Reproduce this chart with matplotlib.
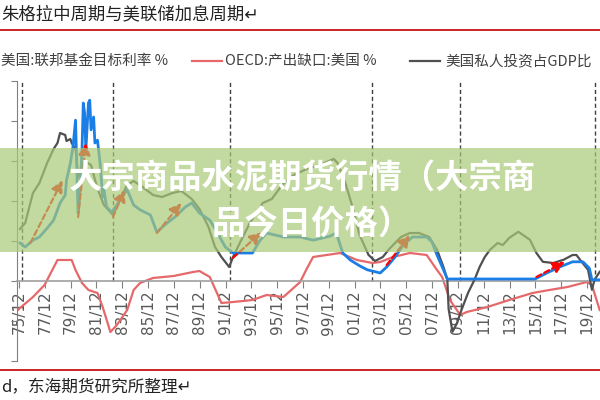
import matplotlib.pyplot as plt
from matplotlib.lines import Line2D
from matplotlib.patches import Rectangle

plt.rcParams['font.family'] = ['Noto Sans CJK SC', 'DejaVu Sans']

# x axis: December of every second year
tick_pos = [1975.92 + 2 * i for i in range(23)]
tick_labels = ['75/12', '77/12', '79/12', '81/12', '83/12', '85/12', '87/12', '89/12',
               '91/12', '93/12', '95/12', '97/12', '99/12', '01/12', '03/12', '05/12',
               '07/12', '09/12', '11/12', '13/12', '15/12', '17/12', '19/12']

# OECD output gap, US (%)
gap_t = [1975.84, 1976.0, 1977.0, 1977.9, 1978.5, 1978.9, 1980.0, 1980.3, 1980.8, 1981.3,
         1982.0, 1982.4, 1983.0, 1983.5, 1984.3, 1984.8, 1985.3, 1986.3, 1987.9, 1989.4,
         1989.9, 1990.7, 1991.6, 1992.5, 1994.0, 1995.1, 1996.4, 1997.7, 1998.2, 1998.7,
         2000.8, 2002.1, 2003.3, 2003.9, 2004.9, 2006.2, 2007.5, 2008.3, 2008.7, 2009.3,
         2010.1, 2010.6, 2012.2, 2013.9, 2015.7, 2017.0, 2018.4, 2019.9, 2020.3, 2020.9]
gap_v = [-2.9, -2.7, -1.6, -0.4, 1.1, 2.1, 2.1, 1.1, -0.2, -0.9,
         -1.2, -2.6, -5.1, -4.4, -2.9, -0.9, -0.2, 0.3, 0.5, 0.9,
         1.0, 0.4, -2.2, -2.1, -1.9, -1.4, -1.6, -0.1, 1.2, 2.4,
         2.8, 2.1, 1.8, 1.9, 2.4, 2.8, 2.6, 1.1, 0.4, -1.9,
         -3.4, -3.1, -2.6, -1.9, -1.2, -0.9, -0.6, -0.1, -0.4, -2.9]

# Fed funds target rate (%)
ff_t = [1976.0, 1976.4, 1977.0, 1977.5, 1978.1, 1978.6, 1979.1, 1979.5, 1979.6, 1979.9,
        1980.1, 1980.3, 1980.4, 1980.5, 1980.6, 1980.8, 1980.9, 1981.0, 1981.1, 1981.3,
        1981.4, 1981.5, 1981.7, 1981.8, 1982.0, 1982.2, 1982.4, 1982.5, 1982.7, 1983.1,
        1983.5, 1984.0, 1984.3, 1984.8, 1985.3, 1986.1, 1986.6, 1987.2, 1988.0, 1988.8,
        1989.3, 1989.9, 1990.7, 1991.3, 1991.9, 1992.5, 1994.0, 1994.6, 1995.1, 1996.4,
        1997.7, 1998.7, 2000.0, 2000.5, 2001.0, 2001.6, 2002.3, 2002.9, 2003.9, 2004.4,
        2005.0, 2005.7, 2006.4, 2007.5, 2007.9, 2008.3, 2008.8, 2009.1, 2015.9, 2016.8,
        2017.8, 2018.8, 2019.6, 2020.1, 2020.3, 2021.0]
ff_v = [4.75, 4.25, 5.1, 5.5, 6.6, 7.6, 9.75, 10.75, 12.6, 14.75,
        16.75, 20.1, 13.9, 8.5, 10.1, 16.4, 22.25, 21.0, 16.4, 22.25,
        22.6, 18.9, 20.5, 17.25, 17.6, 14.75, 10.5, 11.4, 9.25, 8.6,
        9.5, 10.75, 11.4, 9.5, 8.9, 8.25, 6.1, 7.0, 8.0, 9.25,
        9.75, 8.5, 7.6, 6.0, 4.25, 3.5, 3.5, 5.1, 6.0, 5.5,
        5.5, 5.1, 5.6, 6.0, 3.5, 2.6, 1.9, 1.4, 1.0, 1.75,
        2.9, 4.5, 5.5, 5.5, 4.9, 3.25, 1.4, 0.25, 0.25, 1.0,
        1.75, 2.4, 2.4, 1.6, 0.15, 0.15]

# US private investment share of GDP (%)
inv_t = [1976.0, 1976.4, 1977.0, 1977.5, 1978.1, 1978.6, 1978.9, 1979.1, 1979.5, 1979.6,
         1979.9, 1980.0, 1980.3, 1980.5, 1981.0, 1981.5, 1982.0, 1982.5, 1983.2, 1983.7,
         1984.3, 1984.8, 1985.5, 1986.3, 1987.0, 1987.8, 1988.5, 1989.3, 1989.9, 1990.6,
         1991.1, 1991.6, 1992.2, 1992.5, 1993.1, 1993.8, 1994.8, 1995.5, 1996.3, 1997.2,
         1998.2, 1999.2, 2000.3, 2000.6, 2001.2, 2001.8, 2002.3, 2003.0, 2003.5, 2004.1,
         2004.6, 2005.5, 2006.2, 2006.9, 2007.7, 2008.3, 2008.8, 2009.1, 2009.2, 2009.5,
         2009.85, 2010.2, 2010.7, 2011.2, 2011.6, 2012.0, 2012.4, 2013.0, 2013.4, 2013.9,
         2014.6, 2015.5, 2016.0, 2016.5, 2017.3, 2018.1, 2018.8, 2019.1, 2019.5, 2020.0,
         2020.3, 2020.5, 2020.9]
inv_v = [11.3, 11.45, 12.2, 12.45, 12.95, 13.3, 13.45, 13.7, 13.65, 13.5,
         13.55, 13.45, 13.3, 12.6, 13.0, 12.9, 12.3, 11.9, 11.65, 12.0,
         12.4, 12.5, 12.35, 12.15, 12.1, 12.2, 12.25, 12.05, 11.8, 11.35,
         10.85, 10.6, 10.35, 10.6, 11.0, 11.45, 11.95, 12.05, 12.4, 12.65,
         12.8, 12.9, 13.05, 12.95, 12.45, 11.8, 11.15, 10.65, 10.5, 10.6,
         10.8, 11.1, 11.2, 11.2, 11.1, 10.78, 10.35, 10.03, 9.3, 8.73,
         8.95, 9.28, 9.7, 10.03, 10.35, 10.6, 10.78, 10.95, 10.9, 11.08,
         11.23, 11.03, 10.7, 10.48, 10.45, 10.53, 10.65, 10.65, 10.48, 10.28,
         9.78, 10.03, 10.23]

# rate-hike arrows (start / end on the fed funds scale)
hike_t0 = [1976.8, 1980.5, 1983.2, 1986.6, 1992.5, 2004.4, 2016.0]
hike_v0 = [4.75, 8.0, 8.0, 6.0, 2.9, 2.0, 0.5]
hike_t1 = [1979.3, 1981.1, 1984.1, 1988.5, 1994.7, 2006.2, 2018.2]
hike_v1 = [12.6, 17.25, 11.4, 9.75, 6.1, 5.75, 2.4]

# Juglar cycle troughs
juglar_t = [1976.15, 1983.2, 1992.3, 2003.3, 2010.1, 2020.5]

fig = plt.figure(figsize=(6, 4), dpi=100)
W, H = 600.0, 400.0

ax = fig.add_axes([17 / W, 1 - 361 / H, 593 / W, 280 / H])
ax.set_xlim(1975.765, 2021.70)
ax.set_ylim(-8, 20)
ax_inv = ax.twinx()
ax_inv.set_ylim(8, 15)
ax_ff = ax.twinx()
ax_ff.set_ylim(-10, 25)
ax_inv.axis('off')
ax_ff.axis('off')

for s in ['top', 'right']:
    ax.spines[s].set_visible(False)
ax.spines['bottom'].set_position(('data', 0))
ax.spines['bottom'].set_color('#a0a0a0')
ax.spines['bottom'].set_linewidth(1.2)
ax.spines['left'].set_color('#808080')
ax.set_yticks(range(-8, 21, 4))
ax.tick_params(axis='y', direction='out', length=4, color='#808080', labelleft=False)
ax.set_xticks(tick_pos)
ax.set_xticklabels(tick_labels, rotation=90, fontsize=11, color='#595959',
                   family='DejaVu Sans')
ax.tick_params(axis='x', direction='out', length=5, color='#808080', pad=2)

ax.vlines(juglar_t, 0, 20, colors='#404040', linestyles=(0, (3, 2)), lw=1)

ax.plot(gap_t, gap_v, color='#e5696b', lw=1.6)
ax_inv.plot(inv_t, inv_v, color='#505050', lw=1.6)
ax_ff.plot(ff_t, ff_v, color='#1a7ee6', lw=2)

for x0, y0, x1, y1 in zip(hike_t0, hike_v0, hike_t1, hike_v1):
    ax_ff.annotate('', xy=(x1, y1), xytext=(x0, y0),
                   arrowprops=dict(arrowstyle='-|>,head_length=0.7,head_width=0.35',
                                   color='red', lw=1.6, linestyle=(0, (2.5, 1.5)),
                                   shrinkA=0, shrinkB=0))

# document frame around the chart
fig.add_artist(Line2D([0, 1], [1 - 30 / H] * 2, color='#c00000', lw=1.2))
fig.add_artist(Line2D([0, 1], [1 - 370 / H] * 2, color='#c00000', lw=1.2))
fig.text(1 / W, 1 - 14 / H, '朱格拉中周期与美联储加息周期↵', fontsize=12.5,
         color='#222222', va='center', ha='left')
fig.text(1 / W, 1 - 388 / H, 'd，东海期货研究所整理↵', fontsize=12,
         color='#222222', va='center', ha='left')

# legend row
ly = 1 - 61 / H
fig.text(1 / W, ly, '美国:联邦基金目标利率 %', fontsize=10.5, color='#404040', va='center')
fig.add_artist(Line2D([192 / W, 222 / W], [ly, ly], color='#e5696b', lw=1.6))
fig.text(225 / W, ly, 'OECD:产出缺口:美国 %', fontsize=10.5, color='#404040', va='center')
fig.add_artist(Line2D([410 / W, 440 / W], [ly, ly], color='#505050', lw=1.6))
fig.text(445 / W, ly, '美国私人投资占GDP比', fontsize=10.5, color='#404040', va='center')

# overlay banner
fig.add_artist(Rectangle((0, 1 - 252 / H), 1, 104 / H, transform=fig.transFigure,
                         facecolor='#a9c977', alpha=0.7, edgecolor='none', zorder=10))
fig.text(302 / W, 1 - 179 / H, '大宗商品水泥期货行情（大宗商', fontsize=24,
         weight='bold', color='white', ha='center', va='center', zorder=11)
fig.text(312 / W, 1 - 224 / H, '品今日价格）', fontsize=24,
         weight='bold', color='white', ha='center', va='center', zorder=11)

fig.savefig('out.png', dpi=100)
